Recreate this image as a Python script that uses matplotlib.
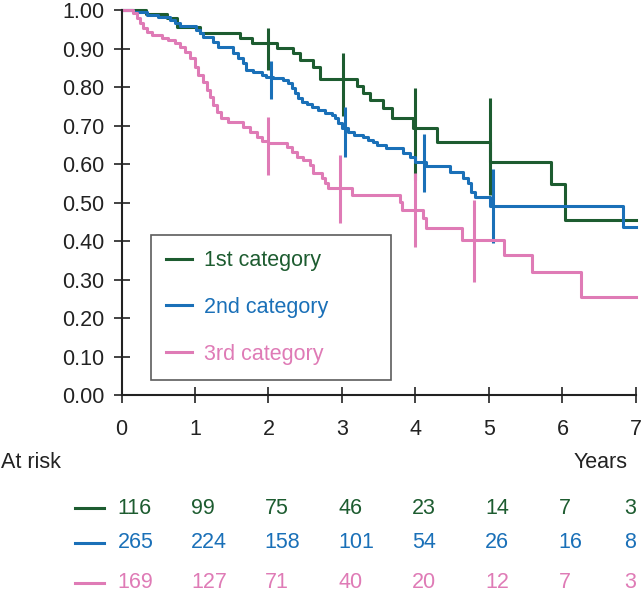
import numpy as np
import matplotlib
matplotlib.use("Agg")
from matplotlib import pyplot as plt
from matplotlib.lines import Line2D

plt.rcParams['font.family'] = ['Liberation Sans', 'DejaVu Sans']

GREEN = '#1d5c30'
BLUE = '#1a70b8'
PINK = '#df7bb6'

# Kaplan-Meier style step data (time in years, survival)
t1 = [0, 0.33, 0.62, 0.75, 1.07, 1.61, 1.77, 2.11, 2.33, 2.43, 2.60, 2.70, 3.20, 3.28,
      3.38, 3.56, 3.68, 3.96, 4.29, 5.01, 5.85, 6.03, 7.0]
s1 = [1.0, 0.99, 0.98, 0.955, 0.94, 0.927, 0.914, 0.901, 0.888, 0.870, 0.852, 0.821, 0.803, 0.784,
      0.766, 0.745, 0.719, 0.694, 0.657, 0.605, 0.548, 0.455, 0.455]

t2 = [0, 0.16, 0.34, 0.50, 0.66, 0.73, 0.79, 1.02, 1.07, 1.11, 1.25, 1.31, 1.52, 1.59,
      1.65, 1.70, 1.79, 1.91, 1.97, 2.06, 2.20, 2.26, 2.32, 2.36, 2.40, 2.45, 2.52, 2.59,
      2.67, 2.77, 2.86, 2.90, 2.94, 3.00, 3.08, 3.17, 3.28, 3.35, 3.42, 3.47, 3.60, 3.83,
      3.92, 3.99, 4.15, 4.47, 4.64, 4.72, 4.76, 4.81, 5.01, 6.82, 7.0]
s2 = [1.0, 0.995, 0.987, 0.981, 0.974, 0.966, 0.958, 0.948, 0.940, 0.931, 0.918, 0.905, 0.888, 0.875,
      0.862, 0.844, 0.839, 0.831, 0.826, 0.823, 0.818, 0.810, 0.797, 0.784, 0.771, 0.761, 0.756, 0.748,
      0.740, 0.732, 0.727, 0.719, 0.706, 0.694, 0.683, 0.675, 0.670, 0.662, 0.657, 0.649, 0.641, 0.628,
      0.618, 0.605, 0.595, 0.579, 0.563, 0.550, 0.527, 0.514, 0.491, 0.436, 0.436]

t3 = [0, 0.15, 0.21, 0.25, 0.29, 0.34, 0.41, 0.55, 0.63, 0.73, 0.79, 0.86, 0.93, 1.00,
      1.04, 1.11, 1.16, 1.20, 1.24, 1.30, 1.36, 1.45, 1.65, 1.75, 1.85, 1.91, 1.99, 2.25,
      2.32, 2.39, 2.47, 2.56, 2.60, 2.73, 2.77, 2.81, 3.13, 3.79, 3.82, 4.10, 4.15, 4.63,
      5.21, 5.58, 6.25, 7.0]
s3 = [1.0, 0.992, 0.98, 0.966, 0.953, 0.943, 0.935, 0.927, 0.922, 0.914, 0.904, 0.891, 0.875, 0.852,
      0.831, 0.813, 0.792, 0.774, 0.753, 0.735, 0.719, 0.709, 0.696, 0.683, 0.670, 0.660, 0.655, 0.644,
      0.631, 0.618, 0.610, 0.597, 0.577, 0.564, 0.551, 0.538, 0.519, 0.501, 0.481, 0.460, 0.434, 0.403,
      0.364, 0.319, 0.255, 0.255]

# confidence bars: time, lower, upper
ci1_t = [1.99, 3.02, 4.00, 5.01]
ci1_lo = [0.844, 0.725, 0.558, 0.519]
ci1_hi = [0.953, 0.888, 0.797, 0.771]
ci2_t = [2.03, 3.04, 4.12, 5.05]
ci2_lo = [0.769, 0.618, 0.527, 0.395]
ci2_hi = [0.868, 0.748, 0.678, 0.587]
ci3_t = [1.99, 2.97, 3.99, 4.79]
ci3_lo = [0.571, 0.447, 0.384, 0.294]
ci3_hi = [0.722, 0.623, 0.577, 0.506]

labels = ['1st category', '2nd category', '3rd category']
risk_times = [0, 1, 2, 3, 4, 5, 6, 7]
risk1 = [116, 99, 75, 46, 23, 14, 7, 3]
risk2 = [265, 224, 158, 101, 54, 26, 16, 8]
risk3 = [169, 127, 71, 40, 20, 12, 7, 3]

fig = plt.figure(figsize=(6.43, 5.96), dpi=100)
ax = fig.add_axes([0.189, 0.337, 0.8, 0.646])

lw = 2.2
series = [(t1, s1, ci1_t, ci1_lo, ci1_hi, GREEN),
          (t2, s2, ci2_t, ci2_lo, ci2_hi, BLUE),
          (t3, s3, ci3_t, ci3_lo, ci3_hi, PINK)]
handles = []
for (t, s, ct, clo, chi, c), lab in zip(series, labels):
    h, = ax.step(t, s, where='post', color=c, lw=lw, label=lab, clip_on=False)
    ax.vlines(ct, clo, chi, color=c, lw=lw)
    handles.append(h)

ax.set_xlim(0, 7)
ax.set_ylim(0, 1)
ax.set_xticks(range(8))
ax.set_yticks(np.arange(0, 1.01, 0.1))
ax.set_yticklabels(['%.2f' % v for v in np.arange(0, 1.01, 0.1)])
for side in ['top', 'right']:
    ax.spines[side].set_visible(False)
for side in ['left', 'bottom']:
    ax.spines[side].set_linewidth(1.5)
    ax.spines[side].set_color('#222222')
ax.tick_params(direction='inout', length=11, width=1.2, color='#222222',
               labelsize=15.5, labelcolor='#222222')
ax.tick_params(axis='x', pad=12)
ax.tick_params(axis='y', pad=7)

leg = ax.legend(handles=handles, loc='upper left', bbox_to_anchor=(0.057, 0.416, 0.467, 0.0),
                mode='expand', borderaxespad=0, fontsize=15.5, frameon=True, fancybox=False,
                edgecolor='#333333', handlelength=1.2, handletextpad=0.56,
                labelspacing=1.2, borderpad=0.7, labelcolor='linecolor')
leg.get_frame().set_linewidth(1.2)

# at-risk table
fig.text(0.002, 1 - 462 / 596, 'At risk', fontsize=15.5, color='#222222', va='center', ha='left')
fig.text(628 / 643, 1 - 462 / 596, 'Years', fontsize=15.5, color='#222222', va='center', ha='right')
row_y = [1 - 508 / 596, 1 - 543 / 596, 1 - 583 / 596]
fig.canvas.draw()
inv = ax.transAxes.inverted()
for vals, c, yy in zip([risk1, risk2, risk3], [GREEN, BLUE, PINK], row_y):
    fig.add_artist(Line2D([75 / 643, 104 / 643], [yy, yy], color=c, lw=lw))
    ya = inv.transform(fig.transFigure.transform((0, yy)))[1]
    for xt, v in zip(risk_times, vals):
        if xt == risk_times[-1]:
            ax.text(xt, ya, str(v), transform=ax.get_xaxis_transform(), fontsize=15.5,
                    color=c, ha='right', va='center', clip_on=False)
        else:
            ax.text(xt - 0.05, ya, str(v), transform=ax.get_xaxis_transform(), fontsize=15.5,
                    color=c, ha='left', va='center', clip_on=False)

fig.savefig('out.png', dpi=100)
